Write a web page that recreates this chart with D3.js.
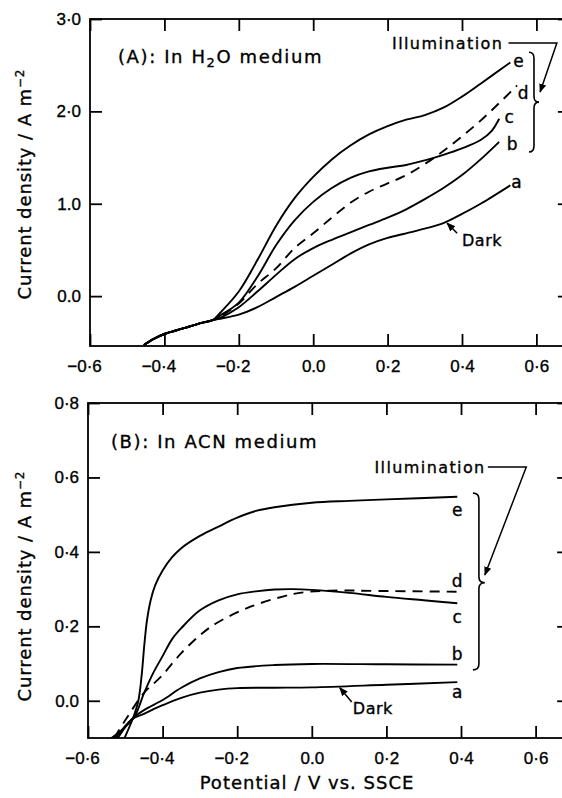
<!DOCTYPE html>
<html>
<head>
<meta charset="utf-8">
<script src="https://cdn.jsdelivr.net/npm/d3@7"></script>
<style>
  body { margin: 0; background: #fff; }
  svg { display: block; font-family: "DejaVu Sans", sans-serif; }
  svg text { fill: #000; stroke: #000; stroke-width: 0.35; }
  .tick text { font-size: 17px; }
  .tick line { stroke: #000; stroke-width: 1.8; }
</style>
</head>
<body>
<svg id="chart" width="562" height="798"></svg>
<script>
// Tick values and labels
const xTicks = [-0.6, -0.4, -0.2, 0, 0.2, 0.4, 0.6];
const xTickLabels = ["−0·6", "−0·4", "−0·2", "0.0", "0·2", "0·4", "0·6"];
const yTicksA = [0, 1, 2, 3];
const yTickLabelsA = ["0.0", "1.0", "2·0", "3·0"];
const yTicksB = [0, 0.2, 0.4, 0.6, 0.8];
const yTickLabelsB = ["0.0", "0·2", "0·4", "0·6", "0·8"];

// (A) H2O medium: [potential V, current density A m-2]
const commonA = [[-0.455, -0.53], [-0.43, -0.465], [-0.40, -0.41], [-0.35, -0.35], [-0.30, -0.29], [-0.27, -0.26]];
const curveA_a = [[-0.25, -0.245], [-0.2, -0.2], [-0.15, -0.12], [-0.1, -0.01], [-0.05, 0.10], [0.0, 0.22], [0.05, 0.34], [0.1, 0.46], [0.15, 0.56], [0.2, 0.63], [0.25, 0.68], [0.3, 0.73], [0.35, 0.79], [0.4, 0.89], [0.45, 1.0], [0.53, 1.2]];
const curveA_b = [[-0.25, -0.235], [-0.2, -0.12], [-0.15, 0.05], [-0.1, 0.23], [-0.05, 0.40], [0.0, 0.52], [0.05, 0.61], [0.1, 0.69], [0.15, 0.77], [0.2, 0.85], [0.25, 0.94], [0.3, 1.05], [0.35, 1.17], [0.4, 1.31], [0.45, 1.48], [0.5, 1.67]];
const curveA_c = [[-0.25, -0.21], [-0.2, -0.07], [-0.15, 0.21], [-0.1, 0.55], [-0.05, 0.82], [0.0, 1.02], [0.05, 1.17], [0.1, 1.28], [0.15, 1.35], [0.2, 1.39], [0.25, 1.42], [0.3, 1.47], [0.35, 1.53], [0.4, 1.60], [0.45, 1.69], [0.48, 1.79], [0.5, 1.92]];
const curveA_d = [[-0.25, -0.22], [-0.2, -0.08], [-0.15, 0.13], [-0.1, 0.30], [-0.05, 0.52], [0.0, 0.68], [0.05, 0.85], [0.1, 1.01], [0.15, 1.13], [0.2, 1.22], [0.25, 1.31], [0.3, 1.43], [0.35, 1.57], [0.4, 1.73], [0.45, 1.90], [0.5, 2.09], [0.548, 2.28]];
const curveA_e = [[-0.25, -0.18], [-0.2, 0.05], [-0.15, 0.39], [-0.1, 0.76], [-0.05, 1.06], [0.0, 1.29], [0.05, 1.48], [0.1, 1.63], [0.15, 1.75], [0.2, 1.84], [0.25, 1.91], [0.3, 1.96], [0.35, 2.04], [0.4, 2.16], [0.45, 2.30], [0.53, 2.53]];

// (B) ACN medium
const curveB_a = [[-0.525, -0.1], [-0.483, -0.05], [-0.45, -0.035], [-0.4, -0.012], [-0.35, 0.008], [-0.3, 0.022], [-0.25, 0.03], [-0.2, 0.034], [-0.1, 0.035], [0.0, 0.036], [0.2, 0.043], [0.39, 0.05]];
const curveB_b = [[-0.52, -0.1], [-0.483, -0.05], [-0.45, -0.025], [-0.4, 0.002], [-0.35, 0.035], [-0.3, 0.06], [-0.25, 0.077], [-0.2, 0.088], [-0.1, 0.096], [0.0, 0.099], [0.2, 0.098], [0.39, 0.097]];
const curveB_c = [[-0.537, -0.1], [-0.5, -0.07], [-0.474, -0.04], [-0.45, 0.02], [-0.425, 0.075], [-0.4, 0.12], [-0.375, 0.165], [-0.35, 0.195], [-0.3, 0.243], [-0.25, 0.27], [-0.2, 0.286], [-0.15, 0.294], [-0.1, 0.299], [-0.05, 0.30], [0.0, 0.298], [0.1, 0.29], [0.2, 0.279], [0.3, 0.27], [0.39, 0.262]];
const curveB_d = [[-0.53, -0.1], [-0.494, -0.043], [-0.451, 0.02], [-0.405, 0.064], [-0.35, 0.128], [-0.295, 0.18], [-0.255, 0.209], [-0.166, 0.252], [-0.078, 0.28], [-0.032, 0.29], [0.048, 0.296], [0.18, 0.295], [0.39, 0.293]];
const curveB_e = [[-0.502, -0.1], [-0.478, -0.043], [-0.465, 0.0], [-0.456, 0.07], [-0.449, 0.15], [-0.442, 0.215], [-0.432, 0.27], [-0.42, 0.31], [-0.4, 0.35], [-0.375, 0.385], [-0.35, 0.41], [-0.3, 0.443], [-0.25, 0.468], [-0.2, 0.492], [-0.15, 0.51], [-0.1, 0.52], [0.0, 0.532], [0.1, 0.537], [0.2, 0.541], [0.39, 0.548]];

const svg = d3.select("#chart");

// arrow head marker
svg.append("defs").append("marker")
    .attr("id", "arrow")
    .attr("viewBox", "0 0 10 10")
    .attr("refX", 9).attr("refY", 5)
    .attr("markerWidth", 9).attr("markerHeight", 9)
    .attr("markerUnits", "userSpaceOnUse")
    .attr("orient", "auto")
    .append("path").attr("d", "M0,1 L10,5 L0,9 z").attr("fill", "#000");

function panel(cfg) {
    const x = d3.scaleLinear().domain([-0.6, 0.69]).range(cfg.xr);
    const y = d3.scaleLinear().domain(cfg.yd).range(cfg.yr);
    const g = svg.append("g");
    const [x0, x1] = cfg.xr, [y1, y0] = cfg.yr;

    // frame
    g.append("rect").attr("x", x0).attr("y", y0).attr("width", x1 - x0).attr("height", y1 - y0)
        .attr("fill", "none").attr("stroke", "#000").attr("stroke-width", 1.8);

    // inward ticks on all four sides
    const bottom = g.append("g").attr("transform", `translate(0,${y1})`)
        .call(d3.axisBottom(x).tickValues(xTicks).tickSizeInner(-12).tickSizeOuter(0).tickPadding(14)
            .tickFormat((d, i) => xTickLabels[i]));
    bottom.selectAll(".tick text").attr("dx", (d) => d < 0 ? -6 : 0);
    g.append("g").attr("transform", `translate(0,${y0})`)
        .call(d3.axisTop(x).tickValues(xTicks).tickSizeInner(-12).tickSizeOuter(0).tickFormat(""));
    g.append("g").attr("transform", `translate(${x0},0)`)
        .call(d3.axisLeft(y).tickValues(cfg.yt).tickSizeInner(-12).tickSizeOuter(0).tickPadding(9)
            .tickFormat((d, i) => cfg.ytl[i]));
    g.append("g").attr("transform", `translate(${x1},0)`)
        .call(d3.axisRight(y).tickValues(cfg.yt).tickSizeInner(-12).tickSizeOuter(0).tickFormat(""));
    g.selectAll(".domain").remove();

    const line = d3.line().x(d => x(d[0])).y(d => y(d[1])).curve(d3.curveCatmullRom.alpha(0.5));
    cfg.series.forEach(s => {
        g.append("path").datum(s.data).attr("d", line)
            .attr("fill", "none").attr("stroke", "#000").attr("stroke-width", 1.9)
            .attr("stroke-dasharray", s.dashed ? "10,7" : null);
        const end = s.data[s.data.length - 1];
        g.append("text").attr("x", x(end[0]) + s.dx).attr("y", y(end[1]) + s.dy)
            .attr("text-anchor", "middle").attr("dominant-baseline", "central")
            .attr("font-size", 17).text(s.name);
    });

    // title
    const t = g.append("text").attr("x", cfg.title.x).attr("y", cfg.title.y).attr("font-size", 18)
        .attr("letter-spacing", 1.6);
    cfg.title.parts.forEach(p => {
        const ts = t.append("tspan").text(p.text);
        if (p.sub) ts.attr("font-size", 13).attr("baseline-shift", "-30%");
    });

    // y label
    const yl = g.append("text")
        .attr("transform", `translate(31,${cfg.ylabelY}) rotate(-90)`)
        .attr("text-anchor", "middle").attr("font-size", 18).attr("letter-spacing", 0.9);
    yl.append("tspan").text("Current density / A m");
    yl.append("tspan").text("−2").attr("font-size", 12).attr("baseline-shift", "60%");

    // "Illumination" with bent leader arrow
    const il = cfg.illum;
    g.append("text").attr("x", x(il.text[0])).attr("y", y(il.text[1])).attr("dominant-baseline", "central")
        .attr("font-size", 16).attr("letter-spacing", 1.4).text("Illumination");
    g.append("path")
        .attr("d", d3.line()(il.path.map(p => [x(p[0]), y(p[1])])))
        .attr("fill", "none").attr("stroke", "#000").attr("stroke-width", 1.5)
        .attr("marker-end", "url(#arrow)");

    // curly brace
    const b = cfg.brace;
    const bx = x(b.x), tx = x(b.tip), yt = y(b.top), yb = y(b.bot), ym = y(b.mid);
    const w = (tx - bx) / 2;
    g.append("path")
        .attr("d", `M${bx},${yt} Q${bx + w},${yt} ${bx + w},${yt + 6} L${bx + w},${ym - 6} Q${bx + w},${ym} ${tx},${ym}` +
            ` Q${bx + w},${ym} ${bx + w},${ym + 6} L${bx + w},${yb - 6} Q${bx + w},${yb} ${bx},${yb}`)
        .attr("fill", "none").attr("stroke", "#000").attr("stroke-width", 1.6);

    // "Dark" with arrow
    const dk = cfg.dark;
    g.append("text").attr("x", x(dk.text[0])).attr("y", y(dk.text[1])).attr("dominant-baseline", "central")
        .attr("font-size", 16).attr("letter-spacing", 0.5).text("Dark");
    g.append("path").attr("d", d3.line()(dk.path.map(p => [x(p[0]), y(p[1])])))
        .attr("stroke", "#000").attr("stroke-width", 1.5).attr("marker-end", "url(#arrow)");
}

panel({
    xr: [90, 90 + 1.29 * 372], yd: [-0.54, 3.0], yr: [346, 19],
    yt: yTicksA, ytl: yTickLabelsA, ylabelY: 184,
    series: [
        { name: "a", data: commonA.concat(curveA_a), dx: 6, dy: -3 },
        { name: "b", data: commonA.concat(curveA_b), dx: 13, dy: 2 },
        { name: "c", data: commonA.concat(curveA_c), dx: 10, dy: -2 },
        { name: "d", data: commonA.concat(curveA_d), dashed: true, dx: 6, dy: 7 },
        { name: "e", data: commonA.concat(curveA_e), dx: 8, dy: -1 }
    ],
    title: { x: 118, y: 63, parts: [{ text: "(A): In H" }, { text: "2", sub: true }, { text: "O medium" }] },
    illum: { text: [0.212, 2.73], path: [[0.525, 2.74], [0.655, 2.74], [0.61, 2.21]] },
    brace: { x: 0.58, tip: 0.607, top: 2.64, bot: 1.56, mid: 2.10 },
    dark: { text: [0.40, 0.60], path: [[0.387, 0.68], [0.36, 0.79]] }
});

panel({
    xr: [88, 88 + 1.29 * 373], yd: [-0.1, 0.8], yr: [738, 403],
    yt: yTicksB, ytl: yTickLabelsB, ylabelY: 586,
    series: [
        { name: "a", data: curveB_a, dx: 0, dy: 10 },
        { name: "b", data: curveB_b, dx: 0, dy: -11 },
        { name: "c", data: curveB_c, dx: 0, dy: 14 },
        { name: "d", data: curveB_d, dashed: true, dx: 0, dy: -11 },
        { name: "e", data: curveB_e, dx: 0, dy: 13 }
    ],
    title: { x: 111, y: 448, parts: [{ text: "(B): In ACN medium" }] },
    illum: { text: [0.168, 0.628], path: [[0.472, 0.628], [0.575, 0.628], [0.464, 0.338]] },
    brace: { x: 0.432, tip: 0.464, top: 0.558, bot: 0.083, mid: 0.317 },
    dark: { text: [0.11, -0.022], path: [[0.107, -0.003], [0.075, 0.035]] }
});

// shared x label
svg.append("text").attr("x", 307).attr("y", 789).attr("text-anchor", "middle")
    .attr("font-size", 18).attr("letter-spacing", 1.0).text("Potential / V vs. SSCE");
</script>
</body>
</html>
